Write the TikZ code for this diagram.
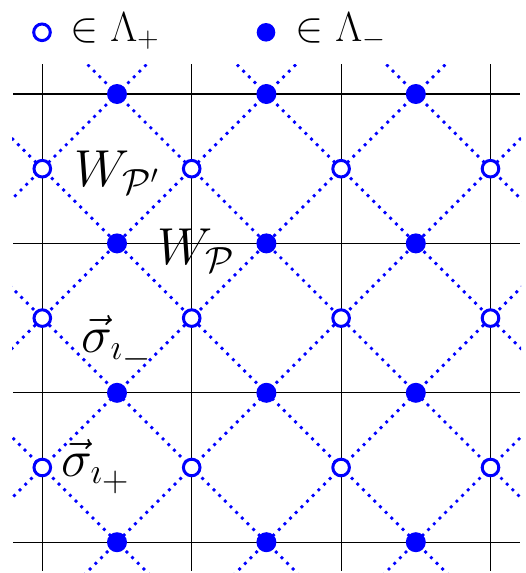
\documentclass[tikz,border=0pt]{standalone}
\usepackage{fix-cm}
\usepackage{amsmath}
\tikzset{
  gridline/.style={line width=1.1pt, black},
  diag/.style={blue, line width=2.8pt, dash pattern=on 2.8pt off 5.2pt},
  opendot/.style={circle, draw=blue, fill=white, line width=3pt, minimum size=16.6pt, inner sep=0pt},
  fulldot/.style={circle, fill=blue, minimum size=20pt, inner sep=0pt},
  biglabel/.style={inner sep=0pt, anchor=base west, font=\fontsize{52}{60}\selectfont},
  leglabel/.style={inner sep=0pt, anchor=base west, font=\fontsize{42}{50}\selectfont},
}
\begin{document}
\begin{tikzpicture}[x=1pt,y=-1pt]
\useasboundingbox (0,0) rectangle (526,573);
% grid
\foreach \a in {0,2,4,6}{
  \draw[gridline] ({42.3+74.7*\a},64) -- ({42.3+74.7*\a},571);
  \draw[gridline] (13,{94+74.7*\a}) -- (520,{94+74.7*\a});
}
% diagonals
\begin{scope}
\clip (12,64) rectangle (521,572);
\foreach \k in {-5,-3,-1,1,3,5}{
  \draw[diag] ({42.3+74.7*(\k-1)},{94-74.7}) -- ({42.3+74.7*(\k+7)},{94+74.7*7});
}
\foreach \s in {1,3,5,7,9,11}{
  \draw[diag] ({42.3+74.7*(\s+1)},{94-74.7}) -- ({42.3+74.7*(\s-7)},{94+74.7*7});
}
\end{scope}
% dots
\foreach \a in {1,3,5}{
  \foreach \b in {0,2,4,6}{
    \node[fulldot] (f-\a-\b) at ({42.3+74.7*\a},{94+74.7*\b}) {};
  }
}
\foreach \a in {0,2,4,6}{
  \foreach \b in {1,3,5}{
    \node[opendot] (o-\a-\b) at ({42.3+74.7*\a},{94+74.7*\b}) {};
  }
}
% legend
\node[opendot] (legopen) at (42,32.3) {};
\node[leglabel] (legplus) at (70.5,41) {$\in \Lambda_+$};
\node[fulldot, minimum size=18.6pt] (legfull) at (266,32.3) {};
\node[leglabel] (legminus) at (295.4,41) {$\in \Lambda_-$};
% labels
\node[biglabel] (wpp) at (74,186.7) {$W_{\mathcal{P}'}$};
\node[biglabel] (wp) at (157.5,264.3) {$W_{\mathcal{P}}$};
\node[biglabel] (sm) at (81.5,352) {$\vec{\sigma}_{\imath_{\scriptstyle -}}$};
\node[biglabel] (sp) at (61.5,476) {$\vec{\sigma}_{\imath_{\scriptstyle +}}$};
\end{tikzpicture}
\end{document}
